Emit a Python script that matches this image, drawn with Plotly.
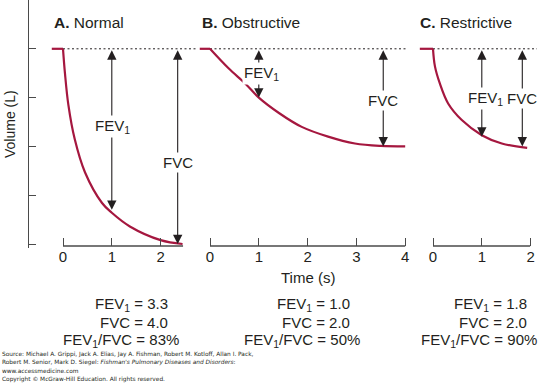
import plotly.graph_objects as go

# ---------------- data ----------------
panel_letters = ["A.", "B.", "C."]
panel_names = ["Normal", "Obstructive", "Restrictive"]

start_volume = 4.0  # level before forced exhalation (L)

# pre-exhalation flat segment (time before t=0)
pre_time = [-0.23, -0.21, -0.27]

time_normal = [0, 0.04, 0.11, 0.24, 0.45, 0.8, 1.0, 1.37, 2.0, 2.45]
vol_normal = [4.0, 3.5, 2.85, 2.15, 1.47, 0.84, 0.64, 0.36, 0.08, 0.0]

time_obstr = [0, 0.38, 0.72, 1.0, 1.42, 1.88, 2.42, 2.97, 3.5, 4.0]
vol_obstr = [4.0, 3.6, 3.29, 3.0, 2.68, 2.4, 2.2, 2.06, 2.01, 2.0]

time_restr = [0, 0.04, 0.14, 0.31, 0.59, 1.0, 1.41, 1.93]
vol_restr = [4.0, 3.64, 3.29, 2.88, 2.54, 2.23, 2.06, 1.97]

dash_end = [2.73, 4.05, 2.13]
axis_end = [2.46, 4.0, 1.99]
x_ticks = [[0, 1, 2], [0, 1, 2, 3, 4], [0, 1, 2]]
y_ticks = [0, 1, 2, 3, 4, 5]

fev1 = [3.3, 1.0, 1.8]
fvc = [4.0, 2.0, 2.0]
ratio = [83, 50, 90]
fev1_time = [1.0, 1.0, 1.0]
fvc_time = [2.35, 3.55, 1.83]

source_lines = [
    "Source: Michael A. Grippi, Jack A. Elias, Jay A. Fishman, Robert M. Kotloff, Allan I. Pack,",
    "Robert M. Senior, Mark D. Siegel: <i>Fishman's Pulmonary Diseases and Disorders</i>:",
    "www.accessmedicine.com",
    "Copyright \u00a9 McGraw-Hill Education. All rights reserved.",
]

# ---------------- layout helpers ----------------
W, H = 540, 386
def fx(px):
    return px / W
def fy(py):
    return 1 - py / H

PX_S = 48.8   # pixels per second
PX_L = 48.8   # pixels per litre
ZERO_PX = 244  # pixel row of volume 0
origins = [63, 210, 433]
domains_px = [(45, 205), (195, 415), (415, 540)]
AXIS_PX = 246

RED = "#a5173f"
INK = "#231f20"
AX = "#4a4a4a"
FONT = "Liberation Sans, Arial, Helvetica, sans-serif"

curves = [(time_normal, vol_normal), (time_obstr, vol_obstr), (time_restr, vol_restr)]
xnames = ["x", "x2", "x3"]

fig = go.Figure()
layout_axes = {}
annotations = []
shapes = []

for i in range(3):
    xr = xnames[i]
    t, v = curves[i]
    # dashed start level
    fig.add_trace(go.Scatter(x=[0, dash_end[i]], y=[start_volume, start_volume], xaxis=xr, yaxis="y",
                             mode="lines", line=dict(color=INK, width=1, dash="2px,2.5px"),
                             hoverinfo="skip", showlegend=False))
    # flat pre segment
    fig.add_trace(go.Scatter(x=[pre_time[i], 0], y=[start_volume, start_volume], xaxis=xr, yaxis="y",
                             mode="lines", line=dict(color=RED, width=2.2),
                             hoverinfo="skip", showlegend=False))
    # exhalation curve
    fig.add_trace(go.Scatter(x=t, y=v, xaxis=xr, yaxis="y", mode="lines",
                             line=dict(color=RED, width=2.2, shape="spline", smoothing=1.0),
                             hoverinfo="skip", showlegend=False))

    d0, d1 = domains_px[i]
    o = origins[i]
    key = "xaxis" if i == 0 else f"xaxis{i+1}"
    layout_axes[key] = dict(
        domain=[fx(d0), fx(d1)],
        range=[(d0 - o) / PX_S, (d1 - o) / PX_S],
        anchor="free", position=fy(AXIS_PX),
        showline=False, showgrid=False, zeroline=False,
        ticks="inside", ticklen=8, tickwidth=1.3, tickcolor=AX,
        tickvals=x_ticks[i], ticktext=[str(k) for k in x_ticks[i]],
        tickfont=dict(size=15, color=INK, family=FONT),
    )
    shapes.append(dict(type="line", xref=xr, yref="paper", x0=0, x1=axis_end[i],
                       y0=fy(AXIS_PX), y1=fy(AXIS_PX), line=dict(color=AX, width=1.3)))

    # arrows
    for tt, amount in [(fev1_time[i], fev1[i]), (fvc_time[i], fvc[i])]:
        annotations.append(dict(
            x=tt, y=start_volume - amount, ax=tt, ay=start_volume,
            xref=xr, yref="y", axref=xr, ayref="y", text="", showarrow=True,
            arrowside="end+start", arrowhead=2, startarrowhead=2,
            arrowsize=1.7, startarrowsize=1.7, arrowwidth=1.1, arrowcolor=INK,
        ))

# arrow labels (drawn after arrows, with white background)
label_pos = [
    [(1.02, 2.4), (2.35, 1.66)],
    [(1.06, 3.5), (3.55, 2.95)],
    [(1.07, 2.98), (1.83, 2.98)],
]
for i in range(3):
    for j, txt in enumerate(["FEV<sub>1</sub>", "FVC"]):
        lx, ly = label_pos[i][j]
        annotations.append(dict(x=lx, y=ly, xref=xnames[i], yref="y", text=txt, showarrow=False,
                                bgcolor="white", borderpad=1,
                                font=dict(size=15, color=INK, family=FONT)))

# panel titles
title_left = [52, 200, 418]
for i in range(3):
    annotations.append(dict(x=fx(title_left[i]), y=fy(23), xref="paper", yref="paper",
                            xanchor="left", yanchor="middle", showarrow=False,
                            text=f"<b>{panel_letters[i]}</b> {panel_names[i]}",
                            font=dict(size=15.5, color=INK, family=FONT)))

# y label and x title
annotations.append(dict(x=fx(10), y=fy(124), xref="paper", yref="paper", textangle=-90,
                        text="Volume (L)", showarrow=False, xanchor="center", yanchor="middle",
                        font=dict(size=14, color=INK, family=FONT)))
annotations.append(dict(x=fx(308), y=fy(277), xref="paper", yref="paper",
                        text="Time (s)", showarrow=False, xanchor="center", yanchor="middle",
                        font=dict(size=15, color=INK, family=FONT)))

# stats
stat_right = [[170, 170, 181], [352, 352, 362], [529, 529, 539]]
stat_y = [304, 322, 340]
for i in range(3):
    lines = [f"FEV<sub>1</sub> = {fev1[i]:.1f}", f"FVC = {fvc[i]:.1f}",
             f"FEV<sub>1</sub>/FVC = {ratio[i]}%"]
    for j, s in enumerate(lines):
        annotations.append(dict(x=fx(stat_right[i][j]), y=fy(stat_y[j]), xref="paper", yref="paper",
                                xanchor="right", yanchor="middle", showarrow=False, text=s,
                                font=dict(size=15, color=INK, family=FONT)))

# source
src_y = [354, 362.3, 370.6, 379]
for k, s in enumerate(source_lines):
    annotations.append(dict(x=0, y=fy(src_y[k]), xref="paper", yref="paper",
                            xanchor="left", yanchor="middle", showarrow=False, text=s,
                            font=dict(size=5.85, color=INK, family="DejaVu Sans, Verdana, sans-serif")))

fig.update_layout(
    width=W, height=H, margin=dict(l=0, r=0, t=0, b=0),
    paper_bgcolor="white", plot_bgcolor="rgba(0,0,0,0)",
    yaxis=dict(domain=[fy(248), 1], range=[-(248 - ZERO_PX) / PX_L, ZERO_PX / PX_L],
               anchor="free", position=fx(28), showline=True, linecolor=AX, linewidth=1.3,
               ticks="inside", ticklen=7, tickwidth=1.3, tickcolor=AX,
               tickvals=y_ticks, showticklabels=False, showgrid=False, zeroline=False),
    annotations=annotations, shapes=shapes, showlegend=False,
    **layout_axes,
)

fig.write_html("out.html", config={"displayModeBar": False},
               post_script="document.body.style.margin='0';document.body.style.padding='0';"
                           "document.body.style.overflow='hidden';")
